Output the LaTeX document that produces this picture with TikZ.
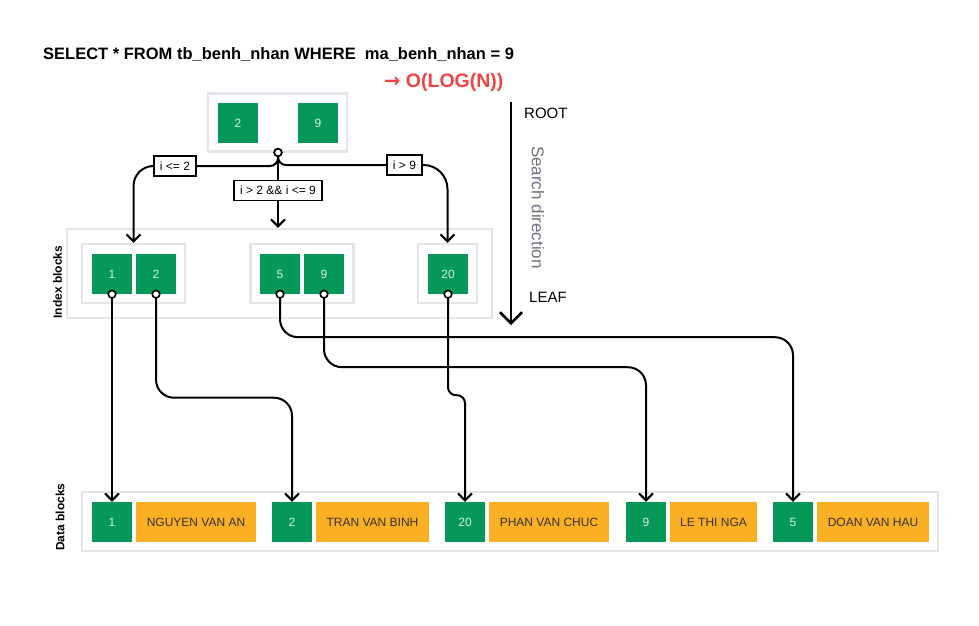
\documentclass[tikz,border=0pt]{standalone}
\usepackage{fontspec}
\setmainfont{Liberation Sans}
\newfontfamily\dejavu{DejaVu Sans}
\usetikzlibrary{arrows.meta}
\definecolor{grn}{RGB}{6,152,88}
\definecolor{org}{RGB}{251,176,36}
\definecolor{frm}{RGB}{228,228,234}
\definecolor{redc}{RGB}{240,68,68}
\definecolor{slate}{RGB}{110,114,132}
\definecolor{numc}{RGB}{215,240,225}
\definecolor{txtc}{RGB}{50,50,50}
\begin{document}
\begin{tikzpicture}[x=1pt,y=-1pt,
  frame/.style={draw=frm,line width=2.5pt,inner sep=0pt},
  key/.style={fill=grn,minimum width=40pt,minimum height=40pt,inner sep=0pt,text=numc,font=\fontsize{12}{14}\selectfont},
  val/.style={fill=org,minimum height=40pt,inner sep=0pt,text=txtc,font=\fontsize{12}{14}\selectfont},
  cond/.style={draw=black,line width=1.8pt,fill=white,inner xsep=6pt,inner ysep=0pt,minimum height=20pt,font=\fontsize{12}{14}\selectfont},
  dot/.style={circle,draw=black,line width=1.6pt,fill=white,minimum size=7.5pt,inner sep=0pt},
  conn/.style={line width=2pt,draw=black},
  tip/.style={-{Straight Barb[length=7pt,width=14pt]}},
  side/.style={font=\fontsize{12}{14}\selectfont\bfseries,rotate=90}
]
\useasboundingbox (0,0) rectangle (979,625);

% title
\node[anchor=west,inner sep=0pt,font=\fontsize{16.5}{18}\selectfont\bfseries] (title) at (43,55)
  {SELECT * FROM tb\_benh\_nhan WHERE\ \ ma\_benh\_nhan = 9};
\node[anchor=west,inner sep=0pt,text=redc,font=\fontsize{19.5}{21}\selectfont\bfseries] (cplx) at (384,82)
  {{\dejavu\bfseries →} O(LOG(N))};

% root block
\node[frame,minimum width=139pt,minimum height=58pt] (rootf) at (277.5,122.5) {};
\node[key] (r2) at (238,123) {2};
\node[key] (r9) at (318,123) {9};

% index blocks
\node[frame,minimum width=425pt,minimum height=89pt] (idx) at (279.5,273.5) {};
\node[frame,minimum width=103pt,minimum height=59pt] (g1) at (133.5,273.5) {};
\node[frame,minimum width=103pt,minimum height=59pt] (g2) at (302,273.5) {};
\node[frame,minimum width=59pt,minimum height=59pt] (g3) at (447.5,273.5) {};
\node[key] (k1) at (112,274) {1};
\node[key] (k2) at (156,274) {2};
\node[key] (k5) at (280,274) {5};
\node[key] (k9) at (324,274) {9};
\node[key] (k20) at (448,274) {20};
\node[side] (ilab) at (57.5,282) {Index blocks};

% data blocks
\node[frame,minimum width=856pt,minimum height=59pt] (dat) at (510,521.5) {};
\node[key] (d1) at (112,522) {1};
\node[val,minimum width=120pt] (n1) at (196,522) {NGUYEN VAN AN};
\node[key] (d2) at (292,522) {2};
\node[val,minimum width=113pt] (n2) at (372.5,522) {TRAN VAN BINH};
\node[key] (d20) at (465,522) {20};
\node[val,minimum width=120pt] (n20) at (549,522) {PHAN VAN CHUC};
\node[key] (d9) at (646,522) {9};
\node[val,minimum width=87pt] (n9) at (713.5,522) {LE THI NGA};
\node[key] (d5) at (793,522) {5};
\node[val,minimum width=112pt] (n5) at (873,522) {DOAN VAN HAU};
\node[side] (dlab) at (60,517) {Data blocks};

% root branching
\node[dot] (rc) at (278,152.5) {};
\node[cond] (l1) at (175,166) {i <= 2};
\node[cond] (l2) at (278,190.5) {i > 2 \&\& i <= 9};
\node[cond] (l3) at (404.5,165) {i > 9};
\draw[conn,rounded corners=8pt] (rc.south) |- (l1.east);
\draw[conn,rounded corners=8pt] (rc.south) |- (l3.west);
\draw[conn] (rc.south) -- (l2.north);
\draw[conn,tip,rounded corners=20pt] (l1.west) -| (g1.north);
\draw[conn,tip,rounded corners=24pt] (l3.east) -| (g3.north);
\draw[conn,tip] (l2.south) -- (rc |- idx.north);
\node[dot] at (278,152.5) {};

% index -> data connectors
\draw[conn,tip] (k1.south) -- (d1.north);
\draw[conn,tip,rounded corners=18pt] (k2.south) -- ++(0,103.5) -| (d2.north);
\draw[conn,tip,rounded corners=18pt] (k5.south) -- ++(0,43) -| (d5.north);
\draw[conn,tip,rounded corners=18pt] (k9.south) -- ++(0,73) -| (d9.north);
\draw[conn,tip,rounded corners=8pt] (k20.south) -- ++(0,101) -| (d20.north);
\node[dot] (c1) at (k1.south) {};
\node[dot] (c2) at (k2.south) {};
\node[dot] (c5) at (k5.south) {};
\node[dot] (c9) at (k9.south) {};
\node[dot] (c20) at (k20.south) {};

% search direction
\coordinate (s1) at (511,102);
\coordinate (s2) at (511,325);
\draw[line width=2.5pt,-{Straight Barb[length=11pt,width=22pt]}] (s1) -- (s2);
\node[anchor=west,inner sep=0pt,font=\fontsize{15}{17}\selectfont] (rootl) at (524,113.5) {ROOT};
\node[anchor=west,inner sep=0pt,font=\fontsize{15}{17}\selectfont] (leafl) at (529,297.5) {LEAF};
\node[rotate=-90,inner sep=0pt,text=slate,font=\fontsize{17}{19}\selectfont] (sdir) at (538,207.5) {Search direction};
\end{tikzpicture}
\end{document}
